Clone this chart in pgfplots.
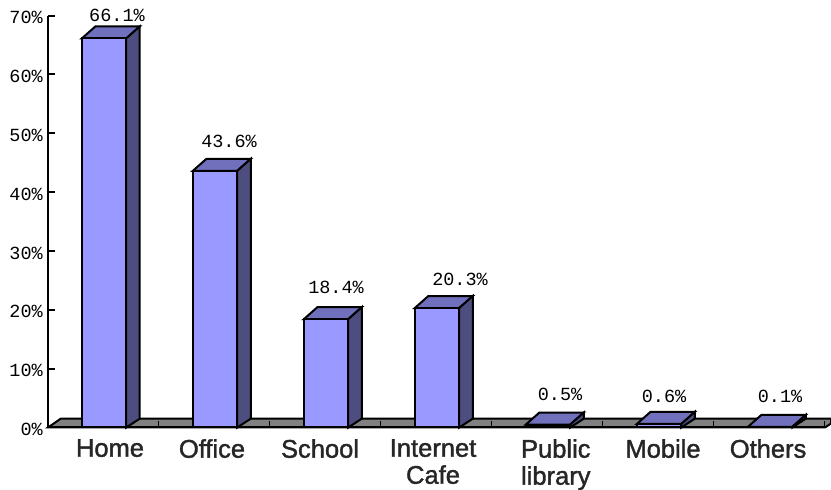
\documentclass[border=0pt]{standalone}
\usepackage{fontspec}
\setmainfont{Liberation Sans}
\newfontfamily\valfont{Liberation Mono}
\newfontfamily\catfont[FakeBold=1.5]{Liberation Sans}
\usepackage{pgfplots}
\pgfplotsset{compat=1.18}
\definecolor{barfront}{HTML}{9999FF}
\definecolor{bartop}{HTML}{7070BC}
\definecolor{barside}{HTML}{4D4D80}
\definecolor{floorgray}{HTML}{808080}
% One 3D column: top face, side face, then the front bar from its value
\newcommand{\column}[2]{%
  \pgfmathsetmacro{\xl}{#1-0.2}\pgfmathsetmacro{\xr}{#1+0.2}%
  \pgfmathsetmacro{\xbl}{#1-0.2+0.122}\pgfmathsetmacro{\xbr}{#1+0.2+0.122}%
  \pgfmathsetmacro{\ytop}{#2+2.04}%
  \addplot[fill=bartop,draw=black,line width=2pt] coordinates {(\xl,#2) (\xbl,\ytop) (\xbr,\ytop) (\xr,#2)} --cycle;
  \addplot[fill=barside,draw=black,line width=2pt] coordinates {(\xr,#2) (\xbr,\ytop) (\xbr,1.5) (\xr,0)} --cycle;
  \addplot[ybar,bar width=44pt,bar shift=0pt,fill=barfront,draw=black,line width=2pt] coordinates {(#1,#2)};
}
\begin{document}
\begin{tikzpicture}
\path[use as bounding box] (-48pt,-62.5pt) rectangle (783pt,427.5pt);
\begin{axis}[
  scale only axis, width=777pt, height=412pt,
  xmin=-0.5045, xmax=6.495, ymin=0, ymax=70,
  clip=false, axis on top,
  axis x line*=bottom, axis y line*=left,
  axis line style={black,line width=2pt,-},
  /pgf/number format/assume math mode=true,
  ytick={0,10,...,70},
  yticklabels={0\%,10\%,20\%,30\%,40\%,50\%,60\%,70\%},
  yticklabel style={font=\valfont\fontsize{18.5}{20}\selectfont,inner sep=0pt,xshift=-5pt,yshift=-2pt},
  y tick style={black,line width=2pt},
  tick align=inside, major tick length=7pt,
  xtick={0.054,0.973,1.946,2.964,4.07,5.036,5.982},
  xticklabels={Home,Office,School,{Internet\\Cafe},{Public\\library},Mobile,Others},
  xticklabel style={font=\catfont\fontsize{25.5}{27}\selectfont,align=center,text=black!85,inner sep=0pt,yshift=-11.5pt},
  x tick style={draw=none},
  extra x ticks={0.49,1.49,2.49,3.49,4.49,5.49,6.49},
  extra x tick labels={},
  extra x tick style={x tick style={draw=black,line width=1.4pt},major tick length=6pt,tick align=inside},
]
% Floor of the chart
\addplot[fill=floorgray,draw=black,line width=2pt] coordinates {(-0.5045,0) (-0.39,1.5) (6.55,1.5) (6.55,0.7) (6.495,0)} --cycle;
\column{0}{66.1}
\column{1}{43.6}
\column{2}{18.4}
\column{3}{20.3}
\column{4}{0.5}
\column{5}{0.6}
\column{6}{0.1}
% Value labels above the columns
\addplot[draw=none,mark=none,
  visualization depends on=\thisrow{dx} \as \labdx,
  visualization depends on=\thisrow{dy} \as \labdy,
  nodes near coords,
  point meta=explicit symbolic,
  every node near coord/.append style={font=\valfont\fontsize{18.5}{20}\selectfont,anchor=center,inner sep=0pt,xshift=\labdx pt,yshift=\labdy pt},
] table[x=x,y=y,meta=lab] {
x y lab dx dy
0 66.1 66.1\% 13 23
1 43.6 43.6\% 14 29
2 18.4 18.4\% 10 32
3 20.3 20.3\% 23 29
4 0.5 0.5\% 12 30
5 0.6 0.6\% 5 28
6 0.1 0.1\% 10 31
};
\end{axis}
\end{tikzpicture}
\end{document}
